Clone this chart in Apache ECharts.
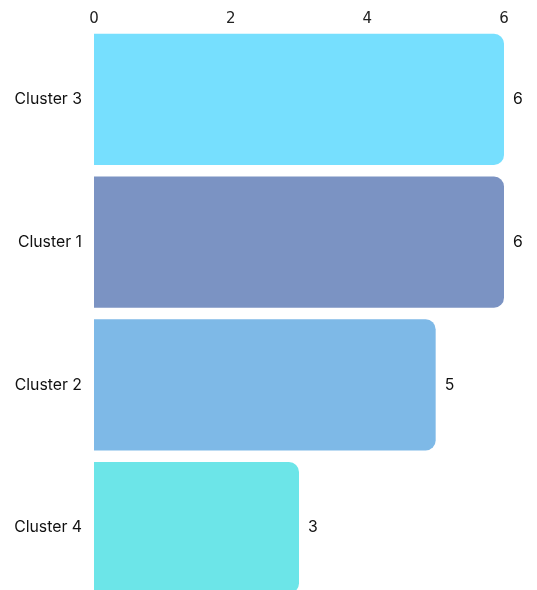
<!DOCTYPE html>
<html>
<head>
<meta charset="utf-8">
<script src="https://cdn.jsdelivr.net/npm/echarts@6/dist/echarts.min.js"></script>
<style>
  html, body { margin: 0; padding: 0; background: #fff; }
  #chart { width: 537px; height: 590px; }
</style>
</head>
<body>
<div id="chart"></div>
<script>
// Cluster sizes, listed top to bottom
const categories = ['Cluster 3', 'Cluster 1', 'Cluster 2', 'Cluster 4'];
const values = [6, 6, 5, 3];
const barColors = ['#76DFFE', '#7B93C3', '#7EB9E7', '#6CE5E8'];
const xTicks = [0, 2, 4, 6];

const chart = echarts.init(document.getElementById('chart'));
chart.setOption({
  animation: false,
  // the plot runs a little past the bottom edge, so the last bar is clipped
  grid: {
    left: 94, right: 33, top: 28, height: 571,
    containLabel: false,
    outerBoundsMode: 'none'
  },
  xAxis: {
    type: 'value',
    position: 'top',
    min: xTicks[0],
    max: xTicks[xTicks.length - 1],
    interval: 2,
    axisLine: { show: false },
    axisTick: { show: false },
    splitLine: { show: false },
    axisLabel: { color: '#222', fontSize: 15, fontFamily: 'DejaVu Sans', margin: 1 }
  },
  yAxis: {
    type: 'category',
    data: categories,
    inverse: true,
    axisLine: { show: false },
    axisTick: { show: false },
    axisLabel: {
      color: '#111', fontSize: 15.8, fontFamily: 'Inter', margin: 12,
      padding: [4, 0, 0, 0]
    }
  },
  series: [{
    type: 'bar',
    data: values.map((v, i) => ({ value: v, itemStyle: { color: barColors[i] } })),
    barCategoryGap: '8%',
    itemStyle: { borderRadius: [0, 10, 10, 0] },
    label: {
      show: true,
      position: 'right',
      distance: 9,
      color: '#111',
      fontSize: 15.8,
      fontFamily: 'Inter',
      padding: [4, 0, 0, 0]
    }
  }]
});
</script>
</body>
</html>
